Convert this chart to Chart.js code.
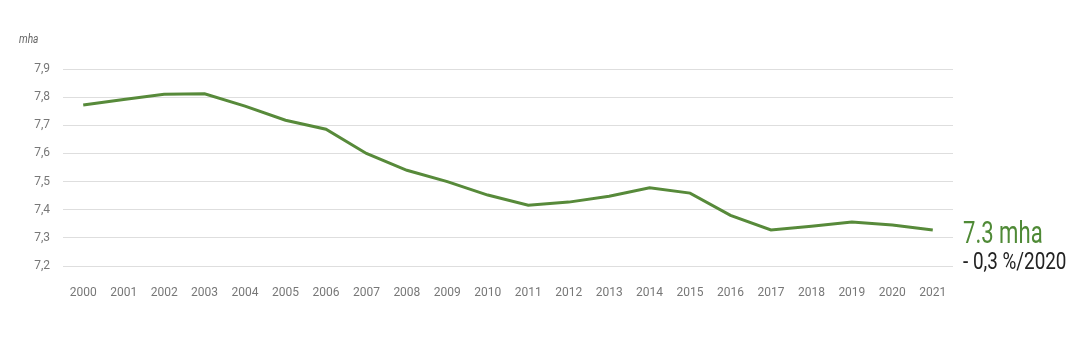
<!DOCTYPE html>
<html lang="fr">
<head>
    <meta charset="UTF-8">
    <title>Surface - mha</title>
    <script src="https://cdn.jsdelivr.net/npm/chart.js@4"></script>
    <style>
        body { margin: 0; background: #fff; font-family: "Roboto", sans-serif; }
        #wrap { position: relative; width: 1080px; height: 340px; }
        .unit { position: absolute; left: 19px; top: 32px; font-size: 12px; font-style: italic; color: #666; transform: scaleX(0.85); transform-origin: left; }
        .big { position: absolute; left: 963px; top: 213px; font-size: 32px; color: #4f8a36; transform: scaleX(0.69); transform-origin: left; white-space: nowrap; }
        .small { position: absolute; left: 963px; top: 248px; font-size: 23px; color: #222; transform: scaleX(0.82); transform-origin: left; white-space: nowrap; }
    </style>
</head>
<body>
<div id="wrap">
    <canvas id="myChart" width="1080" height="340"></canvas>
    <div class="unit">mha</div>
    <div class="big">7.3 mha</div>
    <div class="small">- 0,3 %/2020</div>
</div>
<script>
    const years = ['2000', '2001', '2002', '2003', '2004', '2005', '2006', '2007', '2008', '2009', '2010',
        '2011', '2012', '2013', '2014', '2015', '2016', '2017', '2018', '2019', '2020', '2021']
    const surface = [7.772, 7.792, 7.81, 7.812, 7.768, 7.718, 7.686, 7.60, 7.54, 7.50, 7.452,
        7.416, 7.427, 7.448, 7.478, 7.459, 7.38, 7.328, 7.341, 7.356, 7.346, 7.328]
    const yMin = 7.2
    const yMax = 7.9

    const font = { family: '"Roboto", sans-serif', size: 12 }

    var ctx = document.getElementById('myChart').getContext('2d')
    window.chart = new Chart(ctx, {
        type: 'line',
        data: {
            labels: years,
            datasets: [{
                data: surface,
                borderColor: '#578a3a',
                borderWidth: 3,
                pointRadius: 0,
                tension: 0
            }]
        },
        options: {
            responsive: false,
            animation: false,
            layout: { padding: { left: 0, top: 69, right: 127, bottom: 34 } },
            plugins: { legend: { display: false }, tooltip: { enabled: false } },
            scales: {
                x: {
                    offset: true,
                    grid: { display: false },
                    border: { display: false },
                    ticks: { color: '#777', font: font, padding: 12, maxRotation: 0, autoSkip: false },
                    afterFit: s => { s.height = 40 }
                },
                y: {
                    min: yMin,
                    max: yMax,
                    grid: { color: '#dedede', drawTicks: false },
                    border: { display: false },
                    ticks: {
                        stepSize: 0.1,
                        color: '#777',
                        font: font,
                        padding: 13,
                        callback: v => v.toFixed(1).replace('.', ',')
                    },
                    afterFit: s => { s.width = 63 }
                }
            }
        }
    })
</script>
</body>
</html>
